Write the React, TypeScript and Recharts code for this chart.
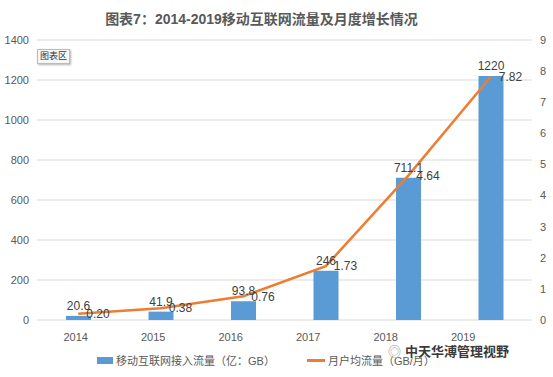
import { Bar, CartesianGrid, ComposedChart, LabelList, Line, XAxis, YAxis } from "recharts";

const years = ["2014", "2015", "2016", "2017", "2018", "2019"];
const traffic = [20.6, 41.9, 93.8, 246, 711.1, 1220];
const perUser = [0.2, 0.38, 0.76, 1.73, 4.64, 7.82];
const leftTicks = [0, 200, 400, 600, 800, 1000, 1200, 1400];
const rightTicks = [0, 1, 2, 3, 4, 5, 6, 7, 8, 9];

const data = years.map((year, i) => ({ year, traffic: traffic[i], perUser: perUser[i] }));

const FONT = '"Liberation Sans", Arial, "Noto Sans CJK SC", sans-serif';
const AXIS = "#595959";

export default function App() {
  return (
    <div style={{ position: "absolute", left: 0, top: 0, width: 553, height: 377, background: "#fff", fontFamily: FONT }}>
      <div
        style={{
          position: "absolute",
          left: 0,
          width: 523,
          top: 8,
          textAlign: "center",
          fontSize: 14,
          fontWeight: "bold",
          color: AXIS,
        }}
      >
        图表7：2014-2019移动互联网流量及月度增长情况
      </div>
      <ComposedChart width={553} height={377} data={data} margin={{ top: 40, right: 0, bottom: 32, left: 0 }}>
        <CartesianGrid xAxisId="bars" yAxisId="left" vertical={false} stroke="#d9d9d9" />
        {/* tick labels in the source sit on a slightly narrower band than the bars */}
        <XAxis
          xAxisId="labels"
          dataKey="year"
          padding={{ left: 0, right: 30 }}
          axisLine={false}
          tickLine={false}
          tickMargin={7}
          height={25}
          interval={0}
          tick={{ fill: AXIS, fontSize: 11 }}
        />
        <XAxis xAxisId="bars" dataKey="year" hide height={0} />
        <YAxis
          yAxisId="left"
          width={37}
          domain={[0, 1400]}
          ticks={leftTicks}
          axisLine={false}
          tickLine={false}
          tick={{ fill: AXIS, fontSize: 11 }}
        />
        <YAxis
          yAxisId="right"
          orientation="right"
          width={21}
          domain={[0, 9]}
          ticks={rightTicks}
          axisLine={false}
          tickLine={false}
          tick={{ fill: AXIS, fontSize: 11 }}
        />
        <Bar xAxisId="bars" yAxisId="left" dataKey="traffic" fill="#5b9bd5" barSize={25} isAnimationActive={false}>
          <LabelList dataKey="traffic" position="top" offset={6} fill="#404040" fontSize={12} />
        </Bar>
        <Line
          xAxisId="bars"
          yAxisId="right"
          type="linear"
          dataKey="perUser"
          stroke="#ed7d31"
          strokeWidth={2.5}
          dot={false}
          isAnimationActive={false}
        >
          <LabelList
            dataKey="perUser"
            position="right"
            offset={8}
            fill="#404040"
            fontSize={12}
            formatter={(v: any) => Number(v).toFixed(2)}
          />
        </Line>
      </ComposedChart>
      <div
        style={{
          position: "absolute",
          left: 37,
          top: 49,
          padding: "0 2px",
          fontSize: 9,
          lineHeight: "13px",
          color: "#333",
          background: "#f7f7f7",
          border: "1px solid #bbb",
          boxShadow: "1px 1px 2px rgba(0,0,0,0.3)",
        }}
      >
        图表区
      </div>
      <div style={{ position: "absolute", left: 97, top: 352, display: "flex", alignItems: "center", fontSize: 11, color: AXIS }}>
        <span style={{ display: "inline-block", width: 16, height: 7, background: "#5b9bd5", marginRight: 3 }} />
        <span>移动互联网接入流量（亿：GB）</span>
        <span style={{ display: "inline-block", width: 18, height: 3, background: "#ed7d31", margin: "0 3px 0 32px" }} />
        <span>月户均流量（GB/月）</span>
      </div>
      <div
        style={{
          position: "absolute",
          left: 388,
          top: 341,
          fontSize: 13,
          fontWeight: "bold",
          color: "#3a3a3a",
          textShadow: "0 0 2px #fff, 0 0 2px #fff",
        }}
      >
        <span style={{ color: "#999", fontWeight: "normal", marginRight: 4 }}>◎</span>中天华溥管理视野
      </div>
    </div>
  );
}
